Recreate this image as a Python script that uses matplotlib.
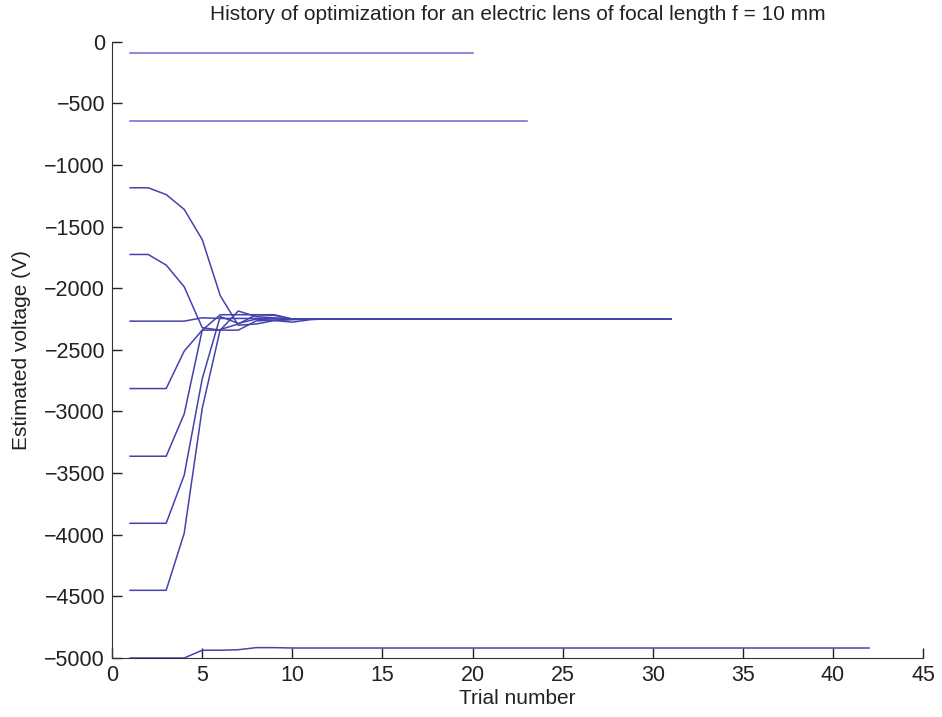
import matplotlib
matplotlib.use("Agg")
import matplotlib.pyplot as plt

# trial numbers and estimated voltages for each starting guess
trials_a = list(range(1, 21))
volt_a = [-95] * 20

trials_b = list(range(1, 24))
volt_b = [-645] * 23

trials_conv = list(range(1, 32))
volt_c1 = [-1185, -1185, -1240, -1360, -1605, -2060, -2300, -2290, -2262, -2255, -2250] + [-2248] * 20
volt_c2 = [-1726, -1726, -1812, -1988, -2320, -2340, -2340, -2265, -2258, -2252, -2250] + [-2248] * 20
volt_c3 = [-2267, -2267, -2267, -2267, -2240, -2245, -2245, -2245, -2246, -2248, -2248] + [-2248] * 20
volt_c4 = [-2814, -2814, -2814, -2510, -2340, -2340, -2185, -2230, -2240, -2250, -2250] + [-2248] * 20
volt_c5 = [-3363, -3363, -3363, -3020, -2340, -2215, -2215, -2215, -2220, -2250, -2250] + [-2248] * 20
volt_c6 = [-3907, -3907, -3907, -3517, -2735, -2230, -2285, -2250, -2262, -2275, -2255] + [-2248] * 20
volt_c7 = [-4451, -4451, -4451, -3988, -2975, -2335, -2290, -2215, -2215, -2250, -2250] + [-2248] * 20

trials_h = list(range(1, 43))
volt_h = [-5000, -5000, -5000, -5000, -4937, -4937, -4933, -4916, -4916, -4919] + [-4919] * 32

line_color = "#4343ad"

fig = plt.figure(figsize=(9.42, 7.17), dpi=100)
ax = fig.add_axes([0.119, 0.0823, 0.861, 0.8595])

ax.plot(trials_a, volt_a, color="#6a6ad0", lw=1.1)
ax.plot(trials_b, volt_b, color="#6a6ad0", lw=1.1)
for v in [volt_c1, volt_c2, volt_c3, volt_c4, volt_c5, volt_c6, volt_c7]:
    ax.plot(trials_conv, v, color=line_color, lw=1.1)
ax.plot(trials_h, volt_h, color=line_color, lw=1.1)

ax.set_xlim(0, 45)
ax.set_ylim(-5000, 0)
ax.set_xticks(range(0, 46, 5))
ax.set_yticks(range(-5000, 1, 500))

ax.spines["top"].set_visible(False)
ax.spines["right"].set_visible(False)
ax.spines["left"].set_color("#333333")
ax.spines["bottom"].set_color("#333333")
ax.tick_params(direction="in", length=7, width=1, labelsize=15.5, colors="#222222", pad=5)

ax.set_title("History of optimization for an electric lens of focal length f = 10 mm",
             fontsize=15, pad=16, color="#222222")
ax.set_xlabel("Trial number", fontsize=15, color="#222222")
ax.set_ylabel("Estimated voltage (V)", fontsize=15, color="#222222")
ax.xaxis.set_label_coords(0.5, -0.05)
ax.yaxis.set_label_coords(-0.1, 0.5)

for t in [ax.title, ax.xaxis.label, ax.yaxis.label] + ax.get_xticklabels() + ax.get_yticklabels():
    t.set_family("Liberation Sans")

fig.savefig("out.png", dpi=100)
